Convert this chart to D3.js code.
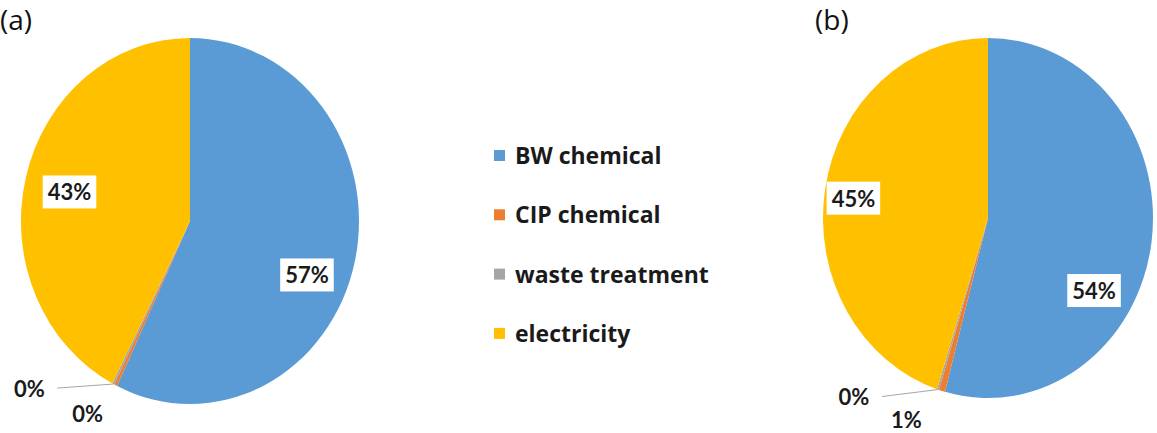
<!DOCTYPE html>
<html>
<head>
<meta charset="utf-8">
<script src="https://cdn.jsdelivr.net/npm/d3@7"></script>
<style>
  body { margin: 0; background: #fff; }
  svg { display: block; font-family: Lato, 'Open Sans', sans-serif; }
</style>
</head>
<body>
<div id="chart"></div>
<script>
// categories and series values (percent of total)
const categories = ['BW chemical', 'CIP chemical', 'waste treatment', 'electricity'];
const colors = ['#5B9BD5', '#ED7D31', '#A5A5A5', '#FFC000'];
const valuesA = [57.1, 0.3, 0.2, 42.4];
const labelsA = ['57%', '0%', '0%', '43%'];
const valuesB = [54.2, 0.6, 0.2, 45.0];
const labelsB = ['54%', '1%', '0%', '45%'];

const width = 1157, height = 433;

const svg = d3.select('#chart')
  .append('svg')
  .attr('width', width)
  .attr('height', height);

// label placement: radius factor + nudge per slice; leader = draw line to slice edge
const pies = [
  {
    title: '(a)', titleX: 0, values: valuesA, labels: labelsA,
    cx: 190, cy: 221, rx: 169, ry: 183,
    place: [
      { k: 0.74, dx: -5, dy: 24, box: true },
      { k: 1.12, dx: -19, dy: 8, box: false },
      { k: 1.0, dx: -84, dy: 4, box: false, leader: true },
      { k: 0.74, dx: 1, dy: 3, box: true }
    ]
  },
  {
    title: '(b)', titleX: 815, values: valuesB, labels: labelsB,
    cx: 988, cy: 218, rx: 165, ry: 180,
    place: [
      { k: 0.74, dx: -15, dy: 55, box: true },
      { k: 1.12, dx: -30, dy: 8, box: false },
      { k: 1.0, dx: -84, dy: 7, box: false, leader: true },
      { k: 0.74, dx: -14, dy: 1, box: true }
    ]
  }
];

const pie = d3.pie().sort(null).value((d) => d);

pies.forEach((p) => {
  const sx = p.rx / p.ry;
  const arcs = pie(p.values);
  const arc = d3.arc().innerRadius(0).outerRadius(p.ry);

  // title
  svg.append('text')
    .attr('x', p.titleX)
    .attr('y', 30)
    .style('font-family', "'Open Sans', sans-serif")
    .style('font-size', '28px')
    .attr('fill', '#111')
    .text(p.title);

  // slices, stretched to the ellipse of the picture
  const g = svg.append('g')
    .attr('transform', `translate(${p.cx},${p.cy}) scale(${sx},1)`);

  g.selectAll('path')
    .data(arcs)
    .enter()
    .append('path')
    .attr('d', arc)
    .attr('fill', (d, i) => colors[i]);

  // labels
  const lg = svg.append('g').attr('transform', `translate(${p.cx},${p.cy})`);

  arcs.forEach((a, i) => {
    const pl = p.place[i];
    const mid = (a.startAngle + a.endAngle) / 2;
    const r = p.ry * pl.k;
    const x = Math.sin(mid) * r * sx + pl.dx;
    const y = -Math.cos(mid) * r + pl.dy;

    if (pl.leader) {
      const ex = Math.sin(mid) * p.ry * sx;
      const ey = -Math.cos(mid) * p.ry;
      lg.append('line')
        .attr('x1', x + 28)
        .attr('y1', y)
        .attr('x2', ex)
        .attr('y2', ey)
        .attr('stroke', '#a6a6a6')
        .attr('stroke-width', 1);
    }

    const t = lg.append('text')
      .attr('x', x)
      .attr('y', y)
      .attr('text-anchor', 'middle')
      .attr('dominant-baseline', 'central')
      .style('font-size', '22px')
      .style('font-weight', 'bold')
      .attr('fill', '#1a1a1a')
      .text(p.labels[i]);

    if (pl.box) {
      const bb = t.node().getBBox();
      lg.insert('rect', () => t.node())
        .attr('x', bb.x - 5)
        .attr('y', bb.y - 3)
        .attr('width', bb.width + 10)
        .attr('height', bb.height + 6)
        .attr('fill', '#fff');
    }
  });
});

// legend
const legend = svg.append('g').attr('transform', 'translate(494,155)');
const rowStep = 59.3;

categories.forEach((c, i) => {
  const row = legend.append('g').attr('transform', `translate(0,${i * rowStep})`);
  row.append('rect')
    .attr('x', 0)
    .attr('y', -5)
    .attr('width', 11)
    .attr('height', 11)
    .attr('fill', colors[i]);
  row.append('text')
    .attr('x', 21)
    .attr('y', 0)
    .attr('dominant-baseline', 'central')
    .style('font-family', "'Open Sans', sans-serif")
    .style('font-size', '23px')
    .style('font-weight', 'bold')
    .attr('fill', '#1a1a1a')
    .text(c);
});
</script>
</body>
</html>
